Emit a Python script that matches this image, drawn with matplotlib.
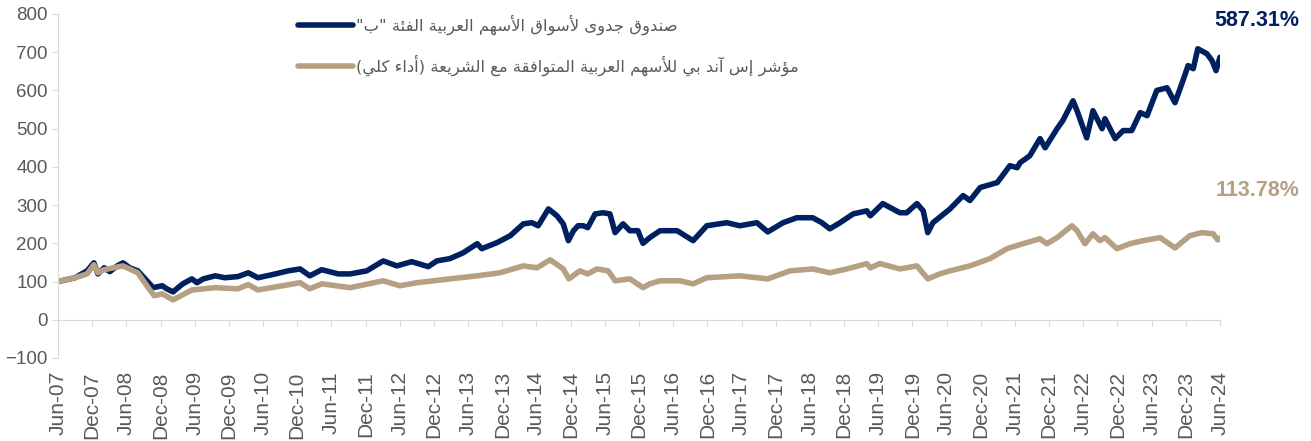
import matplotlib
matplotlib.use('Agg')
import matplotlib.pyplot as plt

# months since Jun-07 and index values
fund_m = [0, 3, 5.1, 6.3, 7.0, 8.1, 9.1, 10.4, 11.4, 12.6, 14, 15.3, 16.7, 18.3, 19.1, 20.2,
          21.9, 23.5, 24.4, 25.5, 27.6, 29.3, 31.6, 33.4, 35.1, 37.6, 40.4, 42.5, 44.2, 46.3,
          49.2, 51.3, 54.2, 57.1, 59.5, 62.1, 65, 66.5, 68.8, 71.1, 73.6, 74.4, 77.1, 79.4,
          81.7, 83.2, 84.3, 86.1, 87.6, 88.7, 89.6, 90.5, 91.3, 92.2, 93, 94.3, 95.7, 96.9,
          97.8, 99.2, 100.4, 101.8, 102.7, 103.9, 105.7, 108.7, 111.5, 113.9, 117.4, 119.7,
          122.7, 124.6, 127.3, 129.7, 132.5, 134.1, 135.5, 137.3, 139.6, 142, 142.6, 144.8,
          147.8, 149, 150.8, 151.9, 152.7, 153.6, 156.6, 158.9, 160.1, 161.9, 164.9, 167.1,
          168.4, 168.9, 170.6, 172.4, 173.3, 175.4, 176.4, 178.2, 178.9, 180.6, 181.7, 183.3,
          183.8, 185.6, 187, 188.5, 190, 191.2, 192.9, 194.7, 196.1, 197.5, 198.4, 199.3,
          200.1, 201.7, 202.6, 203.3, 204]
fund_v = [100, 110, 128, 149, 120, 136, 126, 141, 149, 136, 128, 107, 84, 89, 81, 73,
          94, 107, 97, 107, 115, 110, 113, 123, 110, 118, 128, 133, 115, 131,
          120, 120, 128, 154, 141, 152, 139, 154, 160, 175, 199, 186, 202, 220,
          251, 254, 246, 290, 272, 251, 207, 233, 246, 246, 241, 277, 280, 277,
          228, 251, 233, 233, 200, 215, 233, 233, 207, 246, 254, 246,
          254, 230, 254, 267, 267, 254, 238, 254, 277, 285, 272, 304,
          280, 280, 304, 285, 228, 254, 290, 325, 312, 346, 359, 403,
          398, 411, 429, 474, 450, 500, 521, 573, 547, 476, 547, 500,
          526, 474, 495, 495, 542, 534, 600, 607, 568, 626, 665, 657,
          709, 696, 678, 652, 687]

idx_m = [0, 3, 5.1, 6.3, 7.0, 8.1, 11.4, 14, 15.6, 16.9, 18.3, 20.2, 23.5, 27.6, 31.6, 33.4,
         35.1, 42.5, 44.2, 46.3, 51.3, 57.1, 60, 63, 68.8, 73.6, 77.6, 81.7, 84.1, 86.4, 88.7,
         89.7, 91.6, 93, 94.6, 96.6, 97.8, 100.4, 102.7, 103.9, 105.7, 109.2, 111.5, 113.9,
         119.7, 124.6, 128.5, 132.5, 135.5, 138.5, 142, 142.6, 144.3, 147.8, 150.8, 152.7,
         154.8, 156.6, 160.1, 163.6, 166.6, 169.4, 172.4, 173.6, 175.4, 178, 178.9, 180.3,
         181.7, 182.9, 183.8, 185.9, 188.2, 190.5, 193.5, 196.1, 198.7, 200.8, 202.8, 203.6,
         204]
idx_v = [100, 110, 120, 144, 123, 131, 141, 123, 89, 63, 68, 52, 78, 84, 81, 92,
         78, 97, 81, 94, 84, 102, 89, 97, 107, 115, 123, 141, 136, 157, 133,
         107, 128, 120, 133, 128, 102, 107, 84, 94, 102, 102, 94, 110,
         115, 107, 128, 133, 123, 133, 147, 136, 147, 133, 141, 107,
         120, 128, 141, 160, 186, 199, 212, 199, 215, 246, 233, 199,
         225, 207, 215, 186, 199, 207, 215, 188, 220, 228, 225, 209,
         214]

tick_labels = []
for y in range(7, 25):
    tick_labels.append('Jun-%02d' % y)
    if y < 24:
        tick_labels.append('Dec-%02d' % y)

fund_name = 'صندوق جدوى لأسواق الأسهم العربية الفئة "ب"'
idx_name = 'مؤشر إس آند بي للأسهم العربية المتوافقة مع الشريعة (أداء كلي)'

navy = '#002060'
tan = '#B5A084'
grey = '#595959'

# matplotlib does not shape arabic, so pick presentation forms by hand
letters = 'ءآأؤإئابةتثجحخدذرزسشصضطظعغفقكلمنهوىي'
nforms = '1' + '2222' + '4' + '2' + '4' + '2' + '44444' + '2222' + '4' * 15 + '22' + '4'
forms = {}
code = 0xFE80
for ch, n in zip(letters, nforms):
    forms[ch] = (code, int(n))
    code += int(n)
lamalef = {'آ': 0xFEF5, 'أ': 0xFEF7, 'إ': 0xFEF9, 'ا': 0xFEFB}


def shape(s):
    out = []
    i = 0
    while i < len(s):
        ch = s[i]
        if ch not in forms:
            out.append(ch)
            i += 1
            continue
        prev = s[i - 1] if i > 0 else ''
        jp = int(prev in forms and forms[prev][1] == 4 and forms[ch][1] > 1)
        if ch == 'ل' and i + 1 < len(s) and s[i + 1] in lamalef:
            out.append(chr(lamalef[s[i + 1]] + jp))
            i += 2
            continue
        nxt = s[i + 1] if i + 1 < len(s) else ''
        jn = int(forms[ch][1] == 4 and nxt in forms and forms[nxt][1] > 1)
        out.append(chr(forms[ch][0] + jp + 2 * jn))
        i += 1
    vis = ''.join(reversed(out))
    return vis.translate(str.maketrans('()', ')('))


plt.rcParams['font.family'] = ['Liberation Sans', 'DejaVu Sans']

fig = plt.figure(figsize=(13.11, 4.41), dpi=100)
ax = fig.add_axes([58 / 1311, 83 / 441, 1162 / 1311, 344 / 441])

ax.plot(fund_m, fund_v, color=navy, lw=4, solid_capstyle='round', label=shape(fund_name))
ax.plot(idx_m, idx_v, color=tan, lw=4, solid_capstyle='round', label=shape(idx_name))

ax.set_xlim(0, 204)
ax.set_ylim(-100, 800)
ax.set_yticks(range(-100, 801, 100))
ax.set_xticks(range(0, 205, 6))
ax.set_xticklabels(tick_labels)

for s in ['top', 'right']:
    ax.spines[s].set_visible(False)
ax.spines['bottom'].set_position(('data', 0))
ax.spines['bottom'].set_color('#D9D9D9')
ax.spines['left'].set_color('#D9D9D9')
ax.tick_params(axis='x', colors='#D9D9D9', labelcolor=grey, labelsize=15, length=4,
               pad=33, labelrotation=90)
ax.tick_params(axis='y', colors='#D9D9D9', labelcolor=grey, labelsize=13.5, length=4)

ax.text(218, 783, '587.31%', color=navy, fontsize=15.5, fontweight='bold',
        ha='right', va='center', clip_on=False)
ax.text(218, 338, '113.78%', color=tan, fontsize=15.5, fontweight='bold',
        ha='right', va='center', clip_on=False)

leg = ax.legend(loc='upper left', bbox_to_anchor=(283 / 1311, 1.0), bbox_transform=fig.transFigure,
                frameon=False, handlelength=3.35, handletextpad=0.2, labelspacing=1.2,
                prop={'family': ['DejaVu Sans'], 'size': 11.8})
for t in leg.get_texts():
    t.set_color(grey)

fig.savefig('out.png', dpi=100)
